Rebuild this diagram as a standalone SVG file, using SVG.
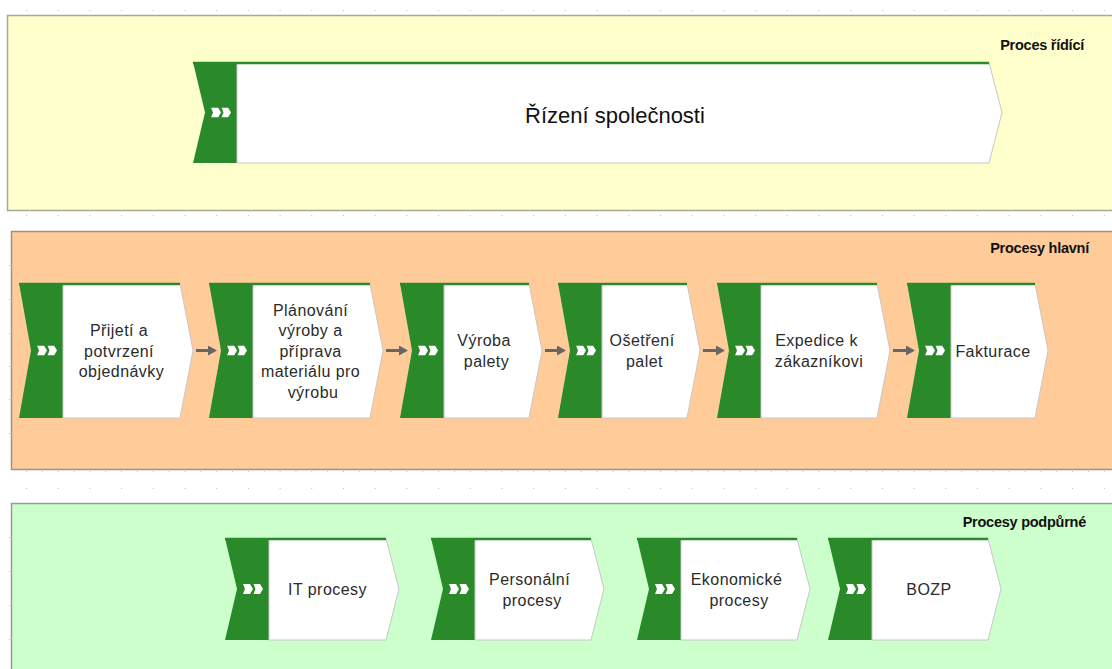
<svg xmlns="http://www.w3.org/2000/svg" width="1112" height="669" viewBox="0 0 1112 669">
  <defs>
    <style>
      .lane-label { font-family: "Liberation Sans", Arial, sans-serif; font-size: 14.5px; font-weight: bold; fill: #111; letter-spacing: -0.25px; text-anchor: end; }
      .proc-green { fill: #2a8a2a; }
      .proc-body { fill: #ffffff; stroke: #c8c8c8; stroke-width: 1; }
      .proc-top { fill: none; stroke: #2a8a2a; stroke-width: 2.5; }
      .proc-text { font-family: "Liberation Sans", Arial, sans-serif; font-size: 16px; letter-spacing: 0.45px; fill: #2b2b2b; text-anchor: middle; }
      .title-text { font-family: "Liberation Sans", Arial, sans-serif; font-size: 22px; fill: #111; text-anchor: middle; }
      .flow { stroke: #666666; stroke-width: 3; fill: none; marker-end: url(#arrow); }
    </style>
    <!-- grid dots, one column every 31.7 px -->
    <pattern id="dots" patternUnits="userSpaceOnUse" x="26" y="0" width="31.7" height="1">
      <rect x="0" y="0" width="1" height="1" fill="#bdbdbd"/>
    </pattern>
    <pattern id="dotsHalf" patternUnits="userSpaceOnUse" x="26" y="0" width="15.85" height="1">
      <rect x="0" y="0" width="1" height="1" fill="#bdbdbd"/>
    </pattern>
    <marker id="arrow" markerUnits="userSpaceOnUse" markerWidth="10" markerHeight="11" refX="3" refY="5" orient="auto">
      <path d="M0,0 L9,5 L0,10 Z" fill="#666666"/>
    </marker>
    <!-- process-type glyph: two white chevrons -->
    <symbol id="chev" viewBox="0 0 20 10" width="20" height="10">
      <path d="M0,0 H7 L10,5 L7,10 H0 L2,5 Z M10.5,0 H17 L20,5 L17,10 H10.5 L12.5,5 Z" fill="#ffffff"/>
    </symbol>
  </defs>

  <!-- background and grid -->
  <rect x="0" y="0" width="1112" height="669" fill="#ffffff"/>
  <g id="grid">
    <rect x="20" y="10" width="1092" height="1" fill="url(#dots)"/>
    <rect x="20" y="215" width="1092" height="1" fill="url(#dots)"/>
    <rect x="20" y="471" width="1092" height="1" fill="url(#dotsHalf)"/>
    <rect x="20" y="488" width="1092" height="1" fill="url(#dots)"/>
    <g fill="#bdbdbd">
      <rect x="9" y="265" width="1" height="1"/>
      <rect x="9" y="299" width="1" height="1"/>
      <rect x="9" y="333" width="1" height="1"/>
      <rect x="9" y="366" width="1" height="1"/>
      <rect x="9" y="399" width="1" height="1"/>
      <rect x="9" y="433" width="1" height="1"/>
      <rect x="9" y="537" width="1" height="1"/>
      <rect x="9" y="571" width="1" height="1"/>
      <rect x="9" y="605" width="1" height="1"/>
      <rect x="9" y="639" width="1" height="1"/>
    </g>
  </g>

  <!-- swimlanes -->
  <g id="lane-rizeni">
    <rect x="7.5" y="15.5" width="1110" height="195" fill="#ffffcc" stroke="#a8a898" stroke-width="1.5"/>
    <text class="lane-label" x="1084" y="50">Proces řídící</text>
  </g>
  <g id="lane-hlavni">
    <rect x="11.5" y="231.5" width="1106" height="238" fill="#ffcc99" stroke="#9c9286" stroke-width="1.5"/>
    <text class="lane-label" x="1089" y="253">Procesy hlavní</text>
  </g>
  <g id="lane-podpurne">
    <rect x="11.5" y="503.5" width="1106" height="170" fill="#ccffcc" stroke="#9a9a9a" stroke-width="1.5"/>
    <text class="lane-label" x="1086" y="527">Procesy podpůrné</text>
  </g>

  <!-- control process -->
  <g id="rizeni-spolecnosti">
    <path class="proc-green" d="M193,62 H237 V163 H193 L205,112.5 Z"/>
    <path class="proc-body" d="M237,62.5 H989 L1002,112.5 L989,163 H237 Z"/>
    <path class="proc-top" d="M193,63 H989"/>
    <use href="#chev" x="211" y="107.5"/>
    <text class="title-text" x="615" y="123">Řízení společnosti</text>
  </g>

  <!-- main processes -->
  <g id="prijeti-objednavky">
    <path class="proc-green" d="M19,283 H63 V418 H19 L31,350.5 Z"/>
    <path class="proc-body" d="M63,283.5 H180 L193,350.5 L180,418 H63 Z"/>
    <path class="proc-top" d="M19,284 H180"/>
    <use href="#chev" x="37" y="345.5"/>
    <text class="proc-text">
      <tspan x="121.5" y="336">Přijetí a</tspan>
      <tspan x="121.5" y="356.5">potvrzení</tspan>
      <tspan x="121.5" y="377">objednávky</tspan>
    </text>
  </g>
  <g id="planovani-vyroby">
    <path class="proc-green" d="M209,283 H253 V418 H209 L221,350.5 Z"/>
    <path class="proc-body" d="M253,283.5 H370 L383,350.5 L370,418 H253 Z"/>
    <path class="proc-top" d="M209,284 H370"/>
    <use href="#chev" x="227" y="345.5"/>
    <text class="proc-text">
      <tspan x="313" y="315.5">Plánování</tspan>
      <tspan x="313" y="336">výroby a</tspan>
      <tspan x="313" y="356.5">příprava</tspan>
      <tspan x="313" y="377">materiálu pro</tspan>
      <tspan x="313" y="397.5">výrobu</tspan>
    </text>
  </g>
  <g id="vyroba-palety">
    <path class="proc-green" d="M400,283 H444 V418 H400 L412,350.5 Z"/>
    <path class="proc-body" d="M444,283.5 H529 L542,350.5 L529,418 H444 Z"/>
    <path class="proc-top" d="M400,284 H529"/>
    <use href="#chev" x="418" y="345.5"/>
    <text class="proc-text">
      <tspan x="486.5" y="346">Výroba</tspan>
      <tspan x="486.5" y="367">palety</tspan>
    </text>
  </g>
  <g id="osetreni-palet">
    <path class="proc-green" d="M558,283 H602 V418 H558 L570,350.5 Z"/>
    <path class="proc-body" d="M602,283.5 H687 L700,350.5 L687,418 H602 Z"/>
    <path class="proc-top" d="M558,284 H687"/>
    <use href="#chev" x="576" y="345.5"/>
    <text class="proc-text">
      <tspan x="644.5" y="346">Ošetření</tspan>
      <tspan x="644.5" y="367">palet</tspan>
    </text>
  </g>
  <g id="expedice">
    <path class="proc-green" d="M717,283 H761 V418 H717 L729,350.5 Z"/>
    <path class="proc-body" d="M761,283.5 H877 L890,350.5 L877,418 H761 Z"/>
    <path class="proc-top" d="M717,284 H877"/>
    <use href="#chev" x="735" y="345.5"/>
    <text class="proc-text">
      <tspan x="819" y="346">Expedice k</tspan>
      <tspan x="819" y="367">zákazníkovi</tspan>
    </text>
  </g>
  <g id="fakturace">
    <path class="proc-green" d="M907,283 H951 V418 H907 L919,350.5 Z"/>
    <path class="proc-body" d="M951,283.5 H1035 L1048,350.5 L1035,418 H951 Z"/>
    <path class="proc-top" d="M907,284 H1035"/>
    <use href="#chev" x="925" y="345.5"/>
    <text class="proc-text" x="993" y="356.5">Fakturace</text>
  </g>

  <!-- support processes -->
  <g id="it-procesy">
    <path class="proc-green" d="M225,538 H269 V640 H225 L237,589 Z"/>
    <path class="proc-body" d="M269,538.5 H386 L399,589 L386,640 H269 Z"/>
    <path class="proc-top" d="M225,539 H386"/>
    <use href="#chev" x="243" y="584"/>
    <text class="proc-text" x="327.5" y="595">IT procesy</text>
  </g>
  <g id="personalni-procesy">
    <path class="proc-green" d="M431,538 H475 V640 H431 L443,589 Z"/>
    <path class="proc-body" d="M475,538.5 H591 L604,589 L591,640 H475 Z"/>
    <path class="proc-top" d="M431,539 H591"/>
    <use href="#chev" x="449" y="584"/>
    <text class="proc-text">
      <tspan x="532" y="585">Personální</tspan>
      <tspan x="532" y="605.5">procesy</tspan>
    </text>
  </g>
  <g id="ekonomicke-procesy">
    <path class="proc-green" d="M637,538 H681 V640 H637 L649,589 Z"/>
    <path class="proc-body" d="M681,538.5 H797 L810,589 L797,640 H681 Z"/>
    <path class="proc-top" d="M637,539 H797"/>
    <use href="#chev" x="655" y="584"/>
    <text class="proc-text">
      <tspan x="739" y="585">Ekonomické</tspan>
      <tspan x="739" y="605.5">procesy</tspan>
    </text>
  </g>
  <g id="bozp">
    <path class="proc-green" d="M828,538 H872 V640 H828 L840,589 Z"/>
    <path class="proc-body" d="M872,538.5 H988 L1001,589 L988,640 H872 Z"/>
    <path class="proc-top" d="M828,539 H988"/>
    <use href="#chev" x="846" y="584"/>
    <text class="proc-text" x="929" y="595" letter-spacing="1">BOZP</text>
  </g>

  <!-- connectors -->
  <g id="connectors">
    <line class="flow" x1="196" y1="350.5" x2="211" y2="350.5"/>
    <line class="flow" x1="386" y1="350.5" x2="402" y2="350.5"/>
    <line class="flow" x1="545" y1="350.5" x2="560" y2="350.5"/>
    <line class="flow" x1="703" y1="350.5" x2="719" y2="350.5"/>
    <line class="flow" x1="893" y1="350.5" x2="909" y2="350.5"/>
  </g>
</svg>
